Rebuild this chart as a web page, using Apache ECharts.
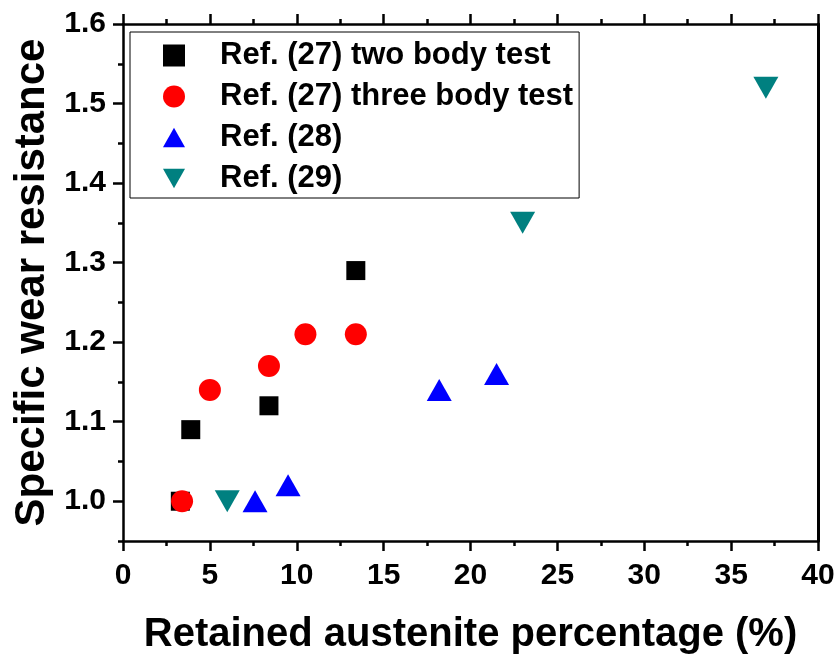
<!DOCTYPE html>
<html>
<head>
<meta charset="utf-8">
<script src="https://cdn.jsdelivr.net/npm/echarts@6/dist/echarts.min.js"></script>
<style>
html,body{margin:0;padding:0;background:#fff;}
#chart{width:838px;height:660px;}
</style>
</head>
<body>
<div id="chart"></div>
<script>
// ---- data ----
var seriesNames = ['Ref. (27) two body test', 'Ref. (27) three body test', 'Ref. (28)', 'Ref. (29)'];
var twoBody = [[3.3, 1.0], [3.9, 1.09], [8.4, 1.12], [13.4, 1.29]];
var threeBody = [[3.4, 1.0], [5.0, 1.14], [8.4, 1.17], [10.5, 1.21], [13.4, 1.21]];
var ref28 = [[7.6, 1.0], [9.5, 1.02], [18.2, 1.14], [21.5, 1.16]];
var ref29 = [[6.0, 1.0], [23.0, 1.35], [37.0, 1.52]];
var yTickValues = [1.0, 1.1, 1.2, 1.3, 1.4, 1.5, 1.6];
var yMinorValues = [0.95, 1.05, 1.15, 1.25, 1.35, 1.45, 1.55];
var xTitle = 'Retained austenite percentage (%)';
var yTitle = 'Specific wear resistance';

var FONT = '"Liberation Sans", Arial, sans-serif';
var chart = echarts.init(document.getElementById('chart'), null, {renderer: 'canvas'});
var lineStyle = {color: '#000', width: 2.5};
var tickStyle = {color: '#000', width: 2.5};

var option = {
  animation: false,
  backgroundColor: '#fff',
  grid: {left: 123, right: 20, top: 24, bottom: 116, containLabel: false},
  legend: {
    orient: 'vertical',
    left: 130,
    top: 32,
    data: [
      {name: seriesNames[0], icon: 'path://M0,0H19V19H0Z'},
      {name: seriesNames[1], icon: 'circle'},
      {name: seriesNames[2], icon: 'path://M12.5,0L25,22H0Z'},
      {name: seriesNames[3], icon: 'path://M0,0H25L12.5,22Z'}
    ],
    backgroundColor: '#fff',
    borderColor: '#000',
    borderWidth: 1,
    padding: [8, 6, 4, 33],
    itemWidth: 22,
    itemHeight: 22,
    itemGap: 10,
    textStyle: {fontFamily: FONT, fontWeight: 'bold', fontSize: 31, lineHeight: 31, color: '#000', padding: [0, 0, 0, 30]}
  },
  xAxis: [{
    type: 'value', min: 0, max: 40, interval: 5, position: 'bottom',
    name: xTitle, nameLocation: 'middle', nameGap: 74,
    nameTextStyle: {fontFamily: FONT, fontWeight: 'bold', fontSize: 40, color: '#000'},
    axisLine: {show: true, onZero: false, lineStyle: lineStyle},
    axisTick: {show: true, inside: false, length: 10, lineStyle: tickStyle},
    minorTick: {show: true, splitNumber: 2, length: 5, lineStyle: tickStyle},
    axisLabel: {fontFamily: FONT, fontWeight: 'bold', fontSize: 30, color: '#000', margin: 20},
    splitLine: {show: false}
  }, {
    type: 'value', min: 0, max: 40, interval: 5, position: 'top',
    axisLine: {show: true, onZero: false, lineStyle: lineStyle},
    axisTick: {show: true, inside: false, length: 10, lineStyle: tickStyle},
    minorTick: {show: true, splitNumber: 2, length: 5, lineStyle: tickStyle},
    axisLabel: {show: false},
    splitLine: {show: false}
  }],
  yAxis: [{
    type: 'value', min: 0.95, max: 1.6, position: 'left',
    name: yTitle, nameLocation: 'middle', nameGap: 66,
    nameTextStyle: {fontFamily: FONT, fontWeight: 'bold', fontSize: 42, color: '#000'},
    axisLine: {show: true, onZero: false, lineStyle: lineStyle},
    axisTick: {show: true, inside: false, length: 10, customValues: yTickValues, lineStyle: tickStyle},
    axisLabel: {customValues: yTickValues, fontFamily: FONT, fontWeight: 'bold', fontSize: 30, color: '#000', margin: 17,
      formatter: function (v) { return v.toFixed(1); }},
    splitLine: {show: false}
  }, {
    type: 'value', min: 0.95, max: 1.6, position: 'left',
    axisLine: {show: false},
    axisTick: {show: true, inside: false, length: 5, customValues: yMinorValues, lineStyle: tickStyle},
    axisLabel: {show: false},
    splitLine: {show: false}
  }, {
    type: 'value', min: 0.95, max: 1.6, position: 'right',
    axisLine: {show: true, onZero: false, lineStyle: {color: '#000', width: 3}},
    axisTick: {show: false},
    axisLabel: {show: false},
    splitLine: {show: false}
  }],
  series: [{
    name: seriesNames[0], type: 'scatter', data: twoBody,
    symbol: 'rect', symbolSize: 19, itemStyle: {color: '#000000', opacity: 1}, z: 2
  }, {
    name: seriesNames[1], type: 'scatter', data: threeBody,
    symbol: 'circle', symbolSize: 22, itemStyle: {color: '#ff0000', opacity: 1}, z: 3
  }, {
    name: seriesNames[2], type: 'scatter', data: ref28,
    symbol: 'triangle', symbolSize: [25, 22], itemStyle: {color: '#0000ff', opacity: 1}, z: 2
  }, {
    name: seriesNames[3], type: 'scatter', data: ref29,
    symbol: 'triangle', symbolRotate: 180, symbolSize: [25, 22], itemStyle: {color: '#008080', opacity: 1}, z: 2
  }]
};
chart.setOption(option);
</script>
</body>
</html>
